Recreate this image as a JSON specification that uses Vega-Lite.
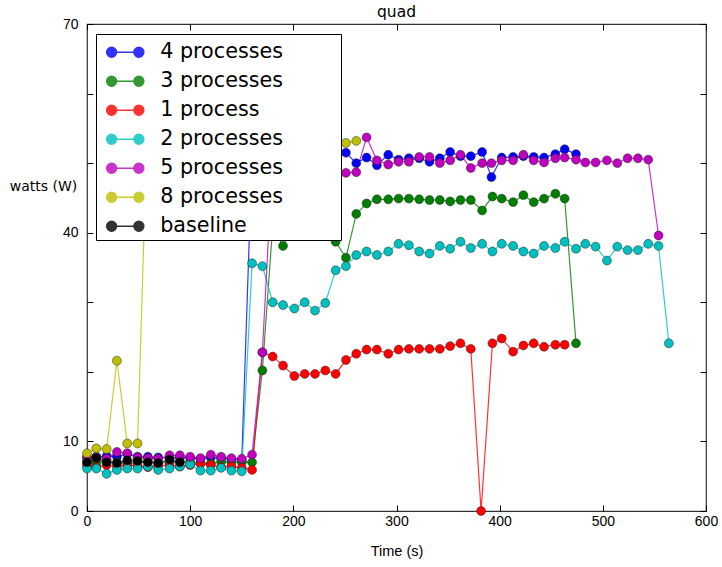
{
"$schema": "https://vega.github.io/schema/vega-lite/v6.json",
"width": 619, "height": 487,
"autosize": {"type": "none"},
"padding": {"left": 87, "top": 24, "right": 16, "bottom": 56},
"background": "white",
"title": {"text": "quad", "font": "DejaVu Sans", "fontSize": 15.5, "fontWeight": "normal", "color": "black", "offset": -3},
"config": {"view": {"stroke": "#333333", "strokeWidth": 1.2}},
"data": {"values": [
{"s":"4 processes","t":0,"w":7.6},{"s":"4 processes","t":9,"w":7.8},{"s":"4 processes","t":19,"w":7.9},{"s":"4 processes","t":29,"w":7.8},{"s":"4 processes","t":39,"w":8.2},{"s":"4 processes","t":49,"w":7.8},{"s":"4 processes","t":59,"w":7.8},{"s":"4 processes","t":69,"w":7.7},{"s":"4 processes","t":80,"w":7.6},{"s":"4 processes","t":90,"w":7.7},{"s":"4 processes","t":100,"w":7.6},{"s":"4 processes","t":110,"w":7.5},{"s":"4 processes","t":120,"w":7.7},{"s":"4 processes","t":130,"w":7.6},{"s":"4 processes","t":140,"w":7.4},{"s":"4 processes","t":150,"w":7.3},{"s":"4 processes","t":160,"w":51.0},{"s":"4 processes","t":170,"w":51.5},{"s":"4 processes","t":180,"w":50.8},{"s":"4 processes","t":190,"w":51.2},{"s":"4 processes","t":201,"w":50.6},{"s":"4 processes","t":211,"w":51.0},{"s":"4 processes","t":221,"w":50.7},{"s":"4 processes","t":231,"w":51.3},{"s":"4 processes","t":241,"w":51.8},{"s":"4 processes","t":251,"w":51.5},{"s":"4 processes","t":261,"w":50.0},{"s":"4 processes","t":271,"w":50.8},{"s":"4 processes","t":281,"w":49.7},{"s":"4 processes","t":292,"w":51.2},{"s":"4 processes","t":302,"w":50.5},{"s":"4 processes","t":312,"w":50.7},{"s":"4 processes","t":322,"w":50.7},{"s":"4 processes","t":332,"w":50.2},{"s":"4 processes","t":342,"w":50.7},{"s":"4 processes","t":352,"w":51.6},{"s":"4 processes","t":362,"w":51.0},{"s":"4 processes","t":372,"w":51.0},{"s":"4 processes","t":383,"w":51.6},{"s":"4 processes","t":392,"w":48.0},{"s":"4 processes","t":402,"w":50.8},{"s":"4 processes","t":413,"w":50.9},{"s":"4 processes","t":423,"w":51.0},{"s":"4 processes","t":433,"w":50.9},{"s":"4 processes","t":443,"w":50.8},{"s":"4 processes","t":454,"w":51.3},{"s":"4 processes","t":463,"w":52.0},{"s":"4 processes","t":474,"w":51.3},
{"s":"3 processes","t":0,"w":7.0},{"s":"3 processes","t":9,"w":6.9},{"s":"3 processes","t":19,"w":7.1},{"s":"3 processes","t":29,"w":7.0},{"s":"3 processes","t":39,"w":6.8},{"s":"3 processes","t":49,"w":7.0},{"s":"3 processes","t":59,"w":7.1},{"s":"3 processes","t":69,"w":6.9},{"s":"3 processes","t":80,"w":7.0},{"s":"3 processes","t":90,"w":7.1},{"s":"3 processes","t":100,"w":7.0},{"s":"3 processes","t":110,"w":6.9},{"s":"3 processes","t":120,"w":6.8},{"s":"3 processes","t":130,"w":7.1},{"s":"3 processes","t":140,"w":7.0},{"s":"3 processes","t":150,"w":7.0},{"s":"3 processes","t":160,"w":7.0},{"s":"3 processes","t":170,"w":20.2},{"s":"3 processes","t":180,"w":41.0},{"s":"3 processes","t":190,"w":38.1},{"s":"3 processes","t":201,"w":41.0},{"s":"3 processes","t":211,"w":41.5},{"s":"3 processes","t":221,"w":41.2},{"s":"3 processes","t":231,"w":41.0},{"s":"3 processes","t":241,"w":38.7},{"s":"3 processes","t":251,"w":36.4},{"s":"3 processes","t":261,"w":42.7},{"s":"3 processes","t":271,"w":44.2},{"s":"3 processes","t":281,"w":44.8},{"s":"3 processes","t":292,"w":44.8},{"s":"3 processes","t":302,"w":44.9},{"s":"3 processes","t":312,"w":44.9},{"s":"3 processes","t":322,"w":44.8},{"s":"3 processes","t":332,"w":44.7},{"s":"3 processes","t":342,"w":44.7},{"s":"3 processes","t":352,"w":44.5},{"s":"3 processes","t":362,"w":44.7},{"s":"3 processes","t":372,"w":44.7},{"s":"3 processes","t":383,"w":43.2},{"s":"3 processes","t":393,"w":45.2},{"s":"3 processes","t":402,"w":44.9},{"s":"3 processes","t":413,"w":44.4},{"s":"3 processes","t":423,"w":45.4},{"s":"3 processes","t":433,"w":44.4},{"s":"3 processes","t":443,"w":44.9},{"s":"3 processes","t":454,"w":45.6},{"s":"3 processes","t":463,"w":44.9},{"s":"3 processes","t":474,"w":24.1},
{"s":"1 process","t":0,"w":6.5},{"s":"1 process","t":9,"w":6.3},{"s":"1 process","t":19,"w":6.6},{"s":"1 process","t":29,"w":6.4},{"s":"1 process","t":39,"w":6.6},{"s":"1 process","t":49,"w":6.5},{"s":"1 process","t":59,"w":6.3},{"s":"1 process","t":69,"w":6.5},{"s":"1 process","t":80,"w":6.6},{"s":"1 process","t":90,"w":6.4},{"s":"1 process","t":100,"w":6.6},{"s":"1 process","t":110,"w":6.8},{"s":"1 process","t":120,"w":6.6},{"s":"1 process","t":130,"w":6.3},{"s":"1 process","t":140,"w":6.4},{"s":"1 process","t":150,"w":6.2},{"s":"1 process","t":160,"w":5.9},{"s":"1 process","t":170,"w":22.8},{"s":"1 process","t":180,"w":22.2},{"s":"1 process","t":190,"w":20.9},{"s":"1 process","t":201,"w":19.4},{"s":"1 process","t":211,"w":19.7},{"s":"1 process","t":221,"w":19.7},{"s":"1 process","t":231,"w":20.2},{"s":"1 process","t":241,"w":19.7},{"s":"1 process","t":251,"w":21.7},{"s":"1 process","t":261,"w":22.6},{"s":"1 process","t":271,"w":23.2},{"s":"1 process","t":281,"w":23.2},{"s":"1 process","t":292,"w":22.6},{"s":"1 process","t":302,"w":23.2},{"s":"1 process","t":312,"w":23.3},{"s":"1 process","t":322,"w":23.3},{"s":"1 process","t":332,"w":23.3},{"s":"1 process","t":342,"w":23.3},{"s":"1 process","t":352,"w":23.7},{"s":"1 process","t":362,"w":24.1},{"s":"1 process","t":372,"w":23.3},{"s":"1 process","t":382,"w":0.0},{"s":"1 process","t":393,"w":24.1},{"s":"1 process","t":402,"w":24.8},{"s":"1 process","t":413,"w":22.9},{"s":"1 process","t":423,"w":23.8},{"s":"1 process","t":433,"w":24.1},{"s":"1 process","t":443,"w":23.6},{"s":"1 process","t":454,"w":23.9},{"s":"1 process","t":463,"w":23.9},
{"s":"2 processes","t":0,"w":6.1},{"s":"2 processes","t":9,"w":6.1},{"s":"2 processes","t":19,"w":5.35},{"s":"2 processes","t":29,"w":5.9},{"s":"2 processes","t":39,"w":6.1},{"s":"2 processes","t":49,"w":6.1},{"s":"2 processes","t":59,"w":6.4},{"s":"2 processes","t":69,"w":5.9},{"s":"2 processes","t":80,"w":6.1},{"s":"2 processes","t":90,"w":6.4},{"s":"2 processes","t":100,"w":6.7},{"s":"2 processes","t":110,"w":5.8},{"s":"2 processes","t":120,"w":5.8},{"s":"2 processes","t":130,"w":6.2},{"s":"2 processes","t":140,"w":5.8},{"s":"2 processes","t":150,"w":5.7},{"s":"2 processes","t":160,"w":35.6},{"s":"2 processes","t":170,"w":35.2},{"s":"2 processes","t":180,"w":30.0},{"s":"2 processes","t":190,"w":29.6},{"s":"2 processes","t":201,"w":29.1},{"s":"2 processes","t":211,"w":30.0},{"s":"2 processes","t":221,"w":28.8},{"s":"2 processes","t":231,"w":29.9},{"s":"2 processes","t":241,"w":34.6},{"s":"2 processes","t":251,"w":35.2},{"s":"2 processes","t":261,"w":36.8},{"s":"2 processes","t":271,"w":37.3},{"s":"2 processes","t":281,"w":36.8},{"s":"2 processes","t":292,"w":37.3},{"s":"2 processes","t":302,"w":38.4},{"s":"2 processes","t":312,"w":38.2},{"s":"2 processes","t":322,"w":37.3},{"s":"2 processes","t":332,"w":37.0},{"s":"2 processes","t":342,"w":38.1},{"s":"2 processes","t":352,"w":37.7},{"s":"2 processes","t":362,"w":38.7},{"s":"2 processes","t":372,"w":37.8},{"s":"2 processes","t":383,"w":38.4},{"s":"2 processes","t":393,"w":37.3},{"s":"2 processes","t":402,"w":38.4},{"s":"2 processes","t":413,"w":38.1},{"s":"2 processes","t":423,"w":37.3},{"s":"2 processes","t":433,"w":37.0},{"s":"2 processes","t":443,"w":38.1},{"s":"2 processes","t":454,"w":37.8},{"s":"2 processes","t":463,"w":38.7},{"s":"2 processes","t":474,"w":37.7},{"s":"2 processes","t":483,"w":38.4},{"s":"2 processes","t":493,"w":38.0},{"s":"2 processes","t":504,"w":36.0},{"s":"2 processes","t":514,"w":38.0},{"s":"2 processes","t":524,"w":37.5},{"s":"2 processes","t":534,"w":37.5},{"s":"2 processes","t":544,"w":38.4},{"s":"2 processes","t":554,"w":38.1},{"s":"2 processes","t":564,"w":24.1},
{"s":"5 processes","t":0,"w":7.8},{"s":"5 processes","t":9,"w":7.7},{"s":"5 processes","t":19,"w":7.5},{"s":"5 processes","t":29,"w":8.5},{"s":"5 processes","t":39,"w":8.3},{"s":"5 processes","t":49,"w":7.7},{"s":"5 processes","t":59,"w":7.6},{"s":"5 processes","t":69,"w":7.5},{"s":"5 processes","t":80,"w":8.0},{"s":"5 processes","t":90,"w":8.0},{"s":"5 processes","t":100,"w":7.8},{"s":"5 processes","t":110,"w":7.6},{"s":"5 processes","t":120,"w":8.1},{"s":"5 processes","t":130,"w":7.8},{"s":"5 processes","t":140,"w":7.6},{"s":"5 processes","t":150,"w":7.5},{"s":"5 processes","t":160,"w":8.1},{"s":"5 processes","t":170,"w":22.8},{"s":"5 processes","t":180,"w":51.0},{"s":"5 processes","t":190,"w":48.5},{"s":"5 processes","t":201,"w":48.8},{"s":"5 processes","t":211,"w":48.6},{"s":"5 processes","t":221,"w":48.9},{"s":"5 processes","t":231,"w":48.7},{"s":"5 processes","t":241,"w":48.8},{"s":"5 processes","t":251,"w":48.6},{"s":"5 processes","t":261,"w":48.7},{"s":"5 processes","t":271,"w":53.7},{"s":"5 processes","t":281,"w":50.4},{"s":"5 processes","t":292,"w":49.8},{"s":"5 processes","t":302,"w":50.2},{"s":"5 processes","t":312,"w":50.2},{"s":"5 processes","t":322,"w":50.9},{"s":"5 processes","t":332,"w":50.9},{"s":"5 processes","t":342,"w":50.0},{"s":"5 processes","t":352,"w":50.4},{"s":"5 processes","t":362,"w":51.2},{"s":"5 processes","t":372,"w":49.3},{"s":"5 processes","t":383,"w":50.0},{"s":"5 processes","t":392,"w":50.0},{"s":"5 processes","t":402,"w":50.4},{"s":"5 processes","t":413,"w":50.4},{"s":"5 processes","t":423,"w":51.2},{"s":"5 processes","t":433,"w":50.4},{"s":"5 processes","t":443,"w":50.1},{"s":"5 processes","t":454,"w":50.7},{"s":"5 processes","t":463,"w":50.8},{"s":"5 processes","t":474,"w":50.5},{"s":"5 processes","t":483,"w":50.1},{"s":"5 processes","t":493,"w":50.1},{"s":"5 processes","t":504,"w":50.4},{"s":"5 processes","t":514,"w":50.0},{"s":"5 processes","t":524,"w":50.7},{"s":"5 processes","t":534,"w":50.7},{"s":"5 processes","t":544,"w":50.5},{"s":"5 processes","t":554,"w":39.6},
{"s":"8 processes","t":0,"w":8.3},{"s":"8 processes","t":9,"w":9.0},{"s":"8 processes","t":19,"w":8.9},{"s":"8 processes","t":29,"w":21.6},{"s":"8 processes","t":39,"w":9.7},{"s":"8 processes","t":49,"w":9.7},{"s":"8 processes","t":59,"w":58.0},{"s":"8 processes","t":69,"w":53.0},{"s":"8 processes","t":80,"w":52.5},{"s":"8 processes","t":90,"w":52.8},{"s":"8 processes","t":100,"w":52.3},{"s":"8 processes","t":110,"w":52.6},{"s":"8 processes","t":120,"w":52.5},{"s":"8 processes","t":130,"w":52.9},{"s":"8 processes","t":140,"w":52.4},{"s":"8 processes","t":150,"w":52.6},{"s":"8 processes","t":160,"w":52.7},{"s":"8 processes","t":170,"w":52.5},{"s":"8 processes","t":180,"w":52.8},{"s":"8 processes","t":190,"w":52.6},{"s":"8 processes","t":201,"w":52.9},{"s":"8 processes","t":211,"w":52.5},{"s":"8 processes","t":221,"w":52.7},{"s":"8 processes","t":231,"w":52.8},{"s":"8 processes","t":241,"w":52.6},{"s":"8 processes","t":251,"w":52.9},{"s":"8 processes","t":261,"w":53.2},
{"s":"baseline","t":0,"w":7.0},{"s":"baseline","t":9,"w":7.6},{"s":"baseline","t":19,"w":7.0},{"s":"baseline","t":29,"w":6.9},{"s":"baseline","t":39,"w":7.3},{"s":"baseline","t":49,"w":7.2},{"s":"baseline","t":59,"w":7.0},{"s":"baseline","t":69,"w":6.9},{"s":"baseline","t":80,"w":7.4},{"s":"baseline","t":90,"w":7.0}
]},
"encoding": {
  "color": {"field": "s", "type": "nominal",
    "scale": {"domain": ["4 processes","3 processes","1 process","2 processes","5 processes","8 processes","baseline"],
              "range": ["#0000ff","#007f00","#ff0000","#00bfbf","#bf00bf","#bfbf00","#000000"]},
    "legend": {"title": "\u2800", "titleOrient": "right", "titleFontSize": 10, "titlePadding": 0, "titleFont": "DejaVu Sans",
      "orient": "none", "legendX": 9, "legendY": 10, "direction": "vertical",
      "fillColor": "white", "strokeColor": "black", "padding": 3.8, "rowPadding": 4,
      "symbolType": "M -0.2 0 L 1.82 0 M -0.57 0 A 0.37 0.37 0 1 0 0.17 0 A 0.37 0.37 0 1 0 -0.57 0 Z M 1.45 0 A 0.37 0.37 0 1 0 2.19 0 A 0.37 0.37 0 1 0 1.45 0 Z",
      "symbolSize": 729, "symbolStrokeWidth": 1.4, "labelOffset": 31.4, "labelLimit": 0,
      "labelFont": "DejaVu Sans", "labelFontSize": 20.7, "labelColor": "black",
      "labelExpr": "datum.label + '\u2800\u2800\u2800'",
      "encode": {
        "symbols": {"update": {"fill": {"scale": "color", "field": "value"}, "stroke": {"scale": "color", "field": "value"}, "opacity": {"value": 1}}},
        "legend": {"update": {"stroke": {"value": "black"}, "strokeWidth": {"value": 1.2}, "fill": {"value": "white"}}}
      }
    }
  }
},
"layer": [
  {"mark": {"type": "line", "strokeWidth": 1.2, "opacity": 0.8},
   "encoding": {
     "x": {"field": "t", "type": "quantitative", "scale": {"domain": [0, 600], "nice": false, "zero": false},
       "axis": {"orient": "bottom", "values": [0,100,200,300,400,500,600], "grid": false, "domain": false,
         "tickSize": -6, "tickColor": "black", "labelPadding": 9, "labelFont": "Liberation Sans", "labelFontSize": 14, "labelColor": "black", "labelFlush": false,
         "title": "Time (s)", "titleFont": "Liberation Sans", "titleFontSize": 14.5, "titleFontWeight": "normal", "titleColor": "black", "titlePadding": 16}},
     "y": {"field": "w", "type": "quantitative", "scale": {"domain": [0, 70], "nice": false, "zero": false},
       "axis": {"orient": "left", "values": [0,10,20,30,40,50,60,70], "grid": false, "domain": false,
         "tickSize": -6, "tickColor": "black", "labelPadding": 15, "labelFont": "Liberation Sans", "labelFontSize": 14, "labelColor": "black", "labelFlush": false,
         "labelExpr": "indexof([0,10,40,70], datum.value) >= 0 ? datum.label : ''",
         "title": "watts (W)", "titleFont": "DejaVu Sans", "titleFontSize": 14, "titleFontWeight": "normal", "titleColor": "black",
         "titleAngle": 0, "titleAlign": "center", "titleBaseline": "middle", "titleX": -44, "titleY": 162}}
   }},
  {"mark": {"type": "point", "filled": true, "size": 80, "opacity": 1, "stroke": "#222222", "strokeWidth": 0.8, "strokeOpacity": 0.6},
   "encoding": {
     "x": {"field": "t", "type": "quantitative",
       "axis": {"orient": "top", "values": [0,100,200,300,400,500,600], "grid": false, "domain": false, "labels": false, "title": null, "tickSize": -6, "tickColor": "black"}},
     "y": {"field": "w", "type": "quantitative",
       "axis": {"orient": "right", "values": [0,10,20,30,40,50,60,70], "grid": false, "domain": false, "labels": false, "title": null, "tickSize": -6, "tickColor": "black"}}
   }}
]
}
